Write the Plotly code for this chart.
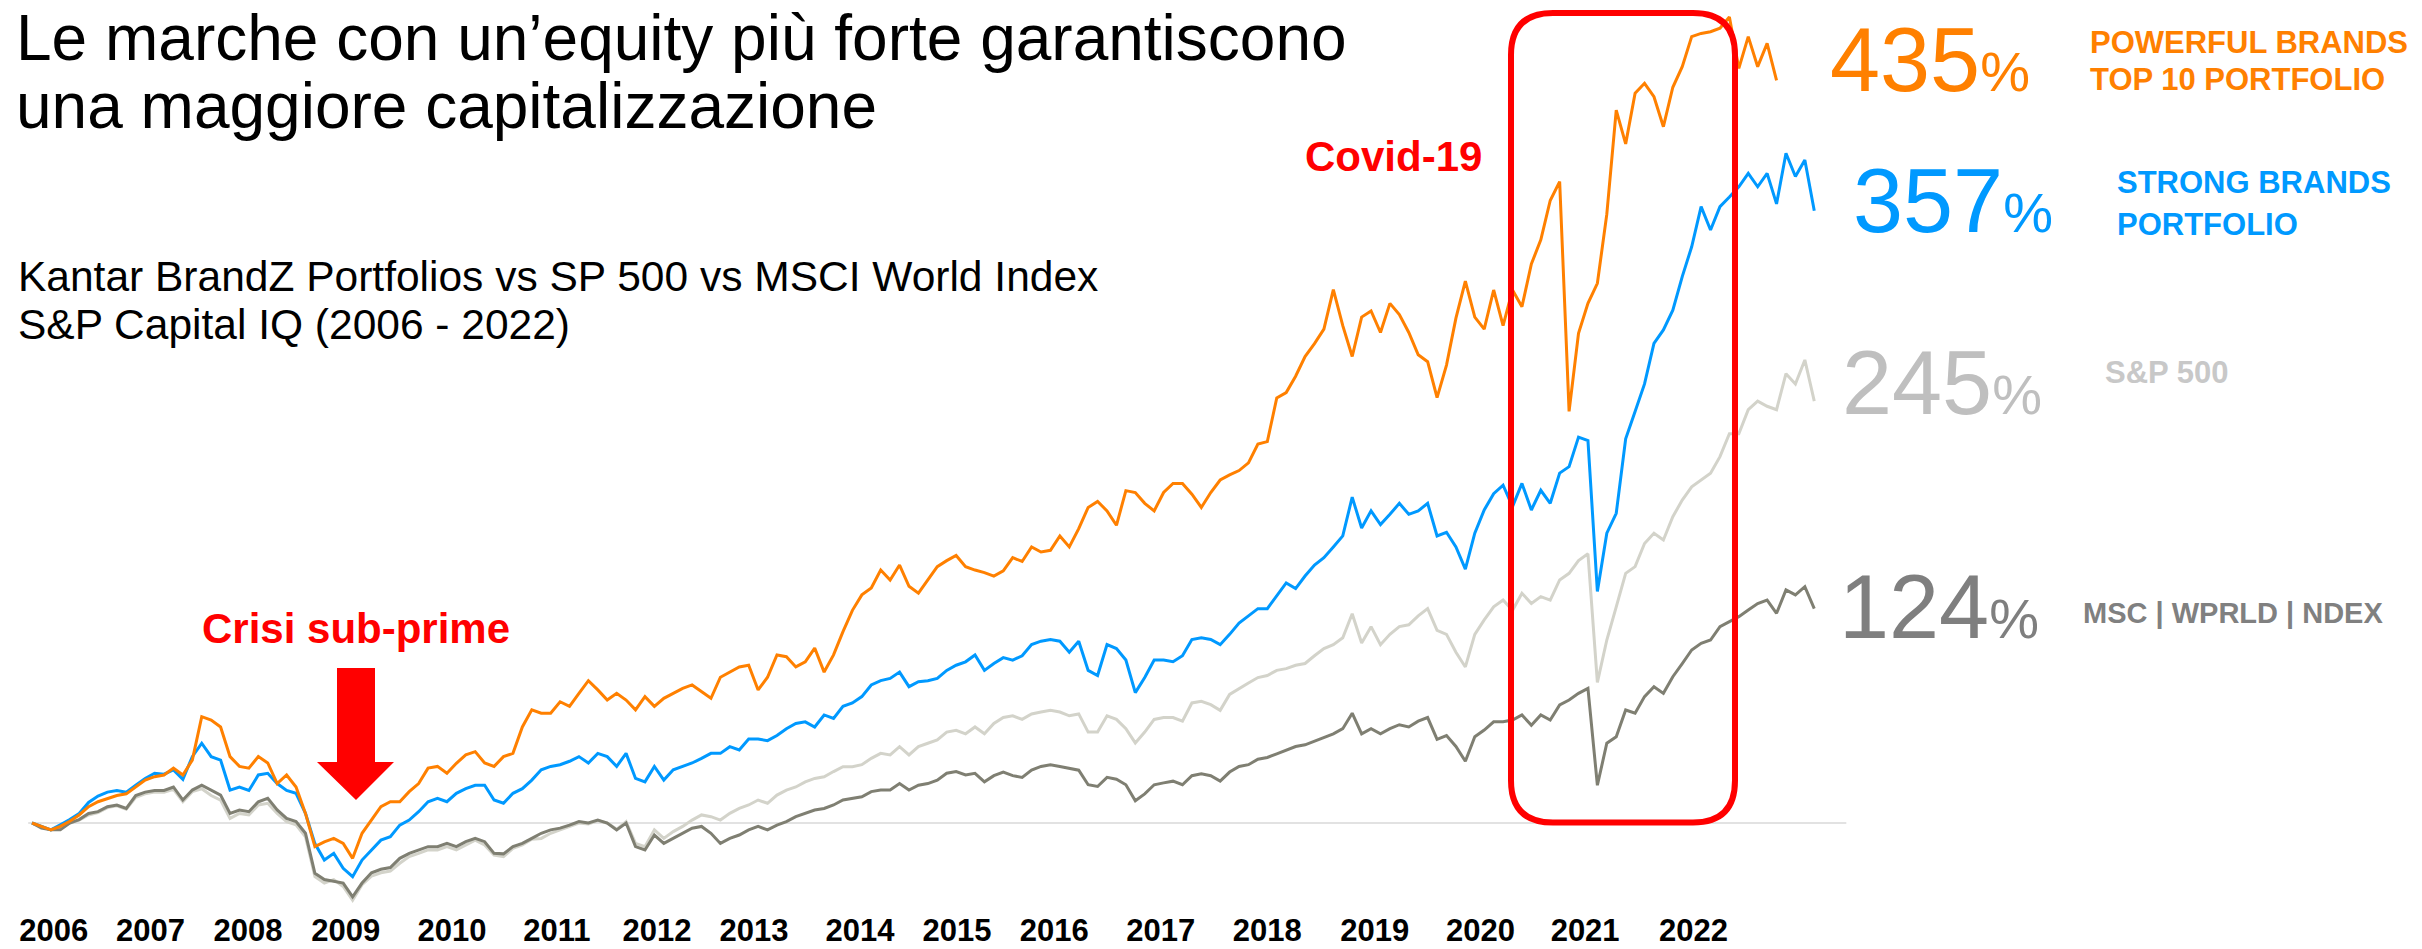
import plotly.graph_objects as go

W, H = 2422, 949

# ---------------- data (% change since start) -------------
YEARS = [str(y) for y in range(2006, 2023)]
# positions of the year labels along the sample index axis (as placed in the reference)
TICK_POS = [2.3, 12.57, 22.9, 33.27, 44.54, 55.67, 66.28, 76.56, 87.8, 98.1,
            108.4, 119.7, 131.0, 142.4, 153.6, 164.7, 176.2]

POWERFUL_TOP10 = [
    0, -2, -4, -2, 1, 4.7, 9.5, 12.4, 14, 16,
    17, 21, 25, 27, 28, 32, 28, 36.7, 62, 60,
    56, 38.7, 33, 32, 38.7, 35, 23, 28, 21, 5.6,
    -13.8, -11, -9, -11.9, -20.6, -6, 1.7, 9.5, 12.4, 12.4,
    18.3, 23, 32, 33, 29, 34.8, 39.7, 41.6, 35, 33,
    38.7, 40.6, 56, 66, 64, 64, 70.7, 68, 75.6, 83,
    77.6, 71.7, 75.6, 71.7, 66, 73.7, 68, 72.7, 75.6, 78.5,
    80.5, 76.6, 72.7, 85, 88, 91, 92, 77.6, 85, 98,
    97, 91, 94, 102, 88, 98, 111.6, 124, 133, 137,
    147.5, 141.7, 150.4, 138, 134, 141.7, 149.5, 153, 156, 149.5,
    147.5, 146, 144, 147, 154.7, 152.5, 161, 158, 159, 167.4,
    161, 171.6, 184, 187.5, 182, 173.6, 193.8, 192.7, 186.4, 182,
    192.7, 198, 198, 191.7, 184, 192.7, 200, 203, 205.5, 210,
    221, 222.4, 247.8, 251, 260.5, 272, 279.5, 288, 311, 290,
    272, 295, 298.6, 286, 303, 296.5, 286, 273, 269, 248,
    267, 294.4, 316, 295, 288, 310.8, 290, 310.8, 301, 326,
    340, 363, 374, 240, 285.5, 303, 314.7, 355, 415.7, 396,
    425.5, 431.3, 423.5, 406, 429, 441, 458.5, 460.4, 461.4, 463.4,
    470, 440, 458.5, 441, 454.6, 433,
]

STRONG_BRANDS = [
    0, -2, -4, -1, 2, 5.6, 12, 15.7, 18, 19,
    18, 22, 26, 29, 28.5, 31, 25.5, 38.7, 46.5, 38.7,
    36.7, 19.2, 21, 19, 28, 29, 23, 19, 17.3, 5.6,
    -12, -21.6, -17.7, -26.4, -31.3, -21.6, -15.7, -10, -8, -1.2,
    1.7, 6.6, 12.4, 14.4, 12.4, 17.3, 20, 22, 22, 13.4,
    11.5, 17.3, 20, 25, 31, 33, 34, 36, 38.7, 35,
    40.6, 38.7, 33, 40.6, 26, 24, 33, 25, 31, 33,
    35, 37.7, 40.6, 40.6, 44.5, 42.6, 49, 49, 48, 51,
    55, 58, 59, 56, 63, 61, 68, 70, 73.7, 80.5,
    83, 84.3, 88, 79.5, 82.4, 83, 84.3, 89, 92, 94,
    98, 89, 93, 96.4, 95, 97.5, 104, 106, 107, 106,
    99.6, 106, 89, 86, 104, 101.7, 95, 76, 84.8, 95,
    95, 94, 97.5, 107, 108, 107, 104, 110, 116.6, 120.8,
    125, 125, 132.4, 140, 136.7, 144, 150.4, 154.7, 161, 167.4,
    190, 172, 182, 174, 180, 186.4, 180, 182, 186.4, 167.4,
    169.5, 161, 148, 169, 182.5, 192, 197, 184.5, 198, 182.5,
    194, 186.4, 204, 207.8, 225, 223, 135, 169, 180.6, 224,
    240, 256, 279.7, 287.5, 299, 318.6, 336, 359.4, 345.8, 359.4,
    365, 371, 378.8, 371, 378.8, 361, 390.5, 377, 386.6, 357,
]

SP500 = [
    0, -2, -4, -3, 0, 1.7, 4.7, 6, 9, 10,
    8, 15, 17, 18, 18, 19.6, 12.4, 18.3, 20, 16,
    13.4, 2.7, 5.6, 4.7, 10.5, 11.5, 5.6, 0.8, -1, -8,
    -31.3, -35, -33, -37, -45, -36, -31, -29, -28, -23.5,
    -19.6, -17.7, -15.7, -15.7, -13.8, -15.7, -12.8, -10, -12.8, -18.7,
    -19.6, -14.8, -12.8, -9.5, -9, -6, -4, -2, 0, -0.5,
    1.4, 0, -3.7, 0.8, -11.9, -13.8, -4, -9, -5, -2,
    1.7, 4.7, 3.7, 1.7, 5.6, 8.5, 10.5, 13.4, 11.5, 16.3,
    19.2, 21, 24, 26, 27, 30, 32.8, 32.8, 34, 37.7,
    40.6, 39.7, 44.5, 39.7, 44.5, 46.5, 48.4, 53, 54, 52,
    56, 52, 58, 61.5, 62.5, 60.4, 63.6, 64.7, 65.7, 64.7,
    62.5, 63.6, 53, 53, 62.5, 60.4, 55, 46.7, 53, 60.4,
    61.5, 61.5, 59.4, 70, 71, 69, 65.7, 75, 78.5, 81.6,
    84.8, 86, 89, 90, 92, 93, 97.5, 101.7, 104, 108,
    122, 105, 114.5, 104, 110, 114.5, 115.6, 120.8, 125, 112.3,
    110, 99.6, 91, 110, 118.4, 126, 130, 124, 134, 128,
    132, 130, 141.7, 145.6, 153, 157, 82, 106.7, 126, 145.6,
    149.5, 163, 169, 165, 178.6, 188.3, 196, 200, 204, 213.6,
    227, 227, 241, 246, 243, 241, 262, 256, 270, 246,
]

MSCI_WORLD = [
    0, -3, -4, -4, 0, 2, 5.6, 6.6, 9.5, 10.5,
    8.5, 16, 18, 19, 19, 21, 13.4, 19.2, 22, 19,
    16.3, 5.6, 7.6, 6.6, 12.4, 14.4, 7.6, 2.7, 0.8, -6,
    -29.3, -33, -34, -35, -43, -35, -29, -27, -26, -20.6,
    -17.7, -15.7, -13.8, -13.8, -11.9, -13.8, -10.9, -9, -10.9, -17.7,
    -18, -13.8, -11.9, -9, -6, -4, -3, -1.2, 0.8, 0,
    1.7, 0, -4, 0, -13.8, -15.7, -7, -11.9, -9, -6,
    -3, -2, -6, -11.9, -9, -7, -4, -2, -4, -1.2,
    0.8, 3.7, 5.6, 7.6, 8.5, 10.5, 13.4, 14.4, 15.3, 18.3,
    19.2, 19.2, 23, 19.2, 22, 23, 25, 29, 30, 28,
    29, 24, 27.6, 29.7, 27.6, 26.6, 30.8, 33, 34, 33,
    31.9, 30.8, 22.3, 21.3, 26.6, 25.5, 22.3, 13, 17, 22.3,
    23.4, 24.4, 22.3, 27.6, 28.7, 27.6, 24.4, 29.7, 33, 34,
    37.2, 38.2, 40.3, 42.4, 44.6, 45.6, 47.7, 49.8, 52, 55,
    64, 52, 55, 52, 55, 57.3, 56, 59.4, 61.5, 48.8,
    51, 44.6, 36, 50.3, 54.2, 59, 59, 60, 63, 57,
    63, 60, 68.8, 71.7, 75.6, 78.5, 22, 46.5, 50.3, 65.9,
    64, 73.7, 79.5, 75.6, 85.3, 93, 100.9, 104.8, 106.7, 114.5,
    117.4, 120.3, 124.2, 128, 130, 122.3, 135.9, 133, 137.8, 125,
]

FINAL_LABELS = ["435", "357", "245", "124"]

# ---------------- styling / geometry ----------------
ORANGE = "#FF8000"
BLUE = "#0099FF"
SP_GREY = "#D3D3CA"
MSCI_GREY = "#7F7F72"
RED = "#FF0000"
FONT = "Liberation Sans, Arial, sans-serif"

X0_PX = 32.0      # pixel of first sample
STEP_PX = 9.43    # pixels per sample
ZERO_PX = 823.0   # pixel row of 0 %
PCT_PX = 1.715    # pixels per percentage point
PLOT_BOTTOM = 909.0


def fx(p):
    return p / W


def fy(p):
    return 1 - p / H


fig = go.Figure()
series = [
    ("S&P 500", SP500, SP_GREY),
    ("MSCI World Index", MSCI_WORLD, MSCI_GREY),
    ("Strong Brands Portfolio", STRONG_BRANDS, BLUE),
    ("Powerful Brands Top 10 Portfolio", POWERFUL_TOP10, ORANGE),
]
for name, vals, color in series:
    fig.add_trace(go.Scatter(
        x=list(range(len(vals))), y=vals, mode="lines", name=name,
        line=dict(color=color, width=3), hoverinfo="skip",
    ))

shapes = []
# thin baseline at 0 %
shapes.append(dict(type="line", xref="x", yref="y", x0=-0.4, x1=192.4, y0=0, y1=0,
                   line=dict(color="#E2E2E2", width=2), layer="below"))


# rounded red box (Covid period)
def rrect(L, T, R, B, r):
    pts = [
        ("M", (L + r, T)), ("L", (R - r, T)), ("Q", (R, T, R, T + r)),
        ("L", (R, B - r)), ("Q", (R, B, R - r, B)), ("L", (L + r, B)),
        ("Q", (L, B, L, B - r)), ("L", (L, T + r)), ("Q", (L, T, L + r, T)),
    ]
    s = ""
    for cmd, c in pts:
        coords = []
        for i in range(0, len(c), 2):
            coords.append(f"{fx(c[i]):.6f},{fy(c[i + 1]):.6f}")
        s += cmd + " ".join(coords) + " "
    return s + "Z"


shapes.append(dict(type="path", xref="paper", yref="paper",
                   path=rrect(1511, 13, 1735, 822.5, 42),
                   line=dict(color=RED, width=6), fillcolor="rgba(0,0,0,0)"))

# red arrow (sub-prime crisis)
arrow_pts = [(337, 668), (375, 668), (375, 762), (394, 762), (356, 800), (317, 762), (337, 762)]
arrow_path = "M" + " L".join(f"{fx(a):.6f},{fy(b):.6f}" for a, b in arrow_pts) + " Z"
shapes.append(dict(type="path", xref="paper", yref="paper", path=arrow_path,
                   fillcolor=RED, line=dict(width=0)))

annotations = []


def ann(text, xpx, ypx, size, color="black", xanchor="left"):
    annotations.append(dict(
        text=text, x=fx(xpx), y=fy(ypx), xref="paper", yref="paper",
        xanchor=xanchor, yanchor="middle", showarrow=False,
        font=dict(family=FONT, size=size, color=color),
    ))


ann("Le marche con un’equity più forte garantiscono", 14, 38, 64)
ann("una maggiore capitalizzazione", 14, 106, 64)
ann("Kantar BrandZ Portfolios vs SP 500 vs MSCI World Index", 16, 276, 42.5)
ann("S&P Capital IQ (2006 - 2022)", 16, 324, 42.5)
ann("<b>Covid-19</b>", 1303, 157, 42, RED)
ann("<b>Crisi sub-prime</b>", 356, 628, 42, RED, xanchor="center")

pct = "<span style='font-size:56px'>%</span>"
ann(FINAL_LABELS[0] + pct, 1828, 60, 90, ORANGE)
ann("<b>POWERFUL BRANDS</b>", 2088, 42, 31, ORANGE)
ann("<b>TOP 10 PORTFOLIO</b>", 2088, 80, 31, ORANGE)
ann(FINAL_LABELS[1] + pct, 1851, 201, 90, BLUE)
ann("<b>STRONG BRANDS</b>", 2115, 183, 31, BLUE)
ann("<b>PORTFOLIO</b>", 2115, 224, 31, BLUE)
ann(FINAL_LABELS[2] + pct, 1840, 383, 90, "#BFBFBF")
ann("<b>S&P 500</b>", 2103, 372, 31, "#C8C8C8")
ann(FINAL_LABELS[3] + pct, 1837, 607, 90, "#7F7F7F")
ann("<b>MSC | WPRLD | NDEX</b>", 2081, 613, 29, "#808080")

fig.update_layout(
    width=W, height=H,
    margin=dict(l=0, r=0, t=0, b=0, pad=0),
    paper_bgcolor="white", plot_bgcolor="white",
    showlegend=False,
    font=dict(family=FONT),
    xaxis=dict(
        domain=[0, 1],
        range=[(0 - X0_PX) / STEP_PX, (W - X0_PX) / STEP_PX],
        showgrid=False, zeroline=False, showline=False, ticks="",
        tickmode="array", tickvals=TICK_POS, ticktext=YEARS,
        tickfont=dict(family=FONT, size=31, color="black", weight="bold"),
        automargin=False, fixedrange=True,
    ),
    yaxis=dict(
        domain=[1 - PLOT_BOTTOM / H, 1],
        range=[-(PLOT_BOTTOM - ZERO_PX) / PCT_PX, ZERO_PX / PCT_PX],
        visible=False, automargin=False, fixedrange=True,
    ),
    shapes=shapes,
    annotations=annotations,
)

fig.write_html(
    "out.html",
    config={"displayModeBar": False},
    post_script="document.body.style.margin='0';document.body.style.overflow='hidden';",
)
